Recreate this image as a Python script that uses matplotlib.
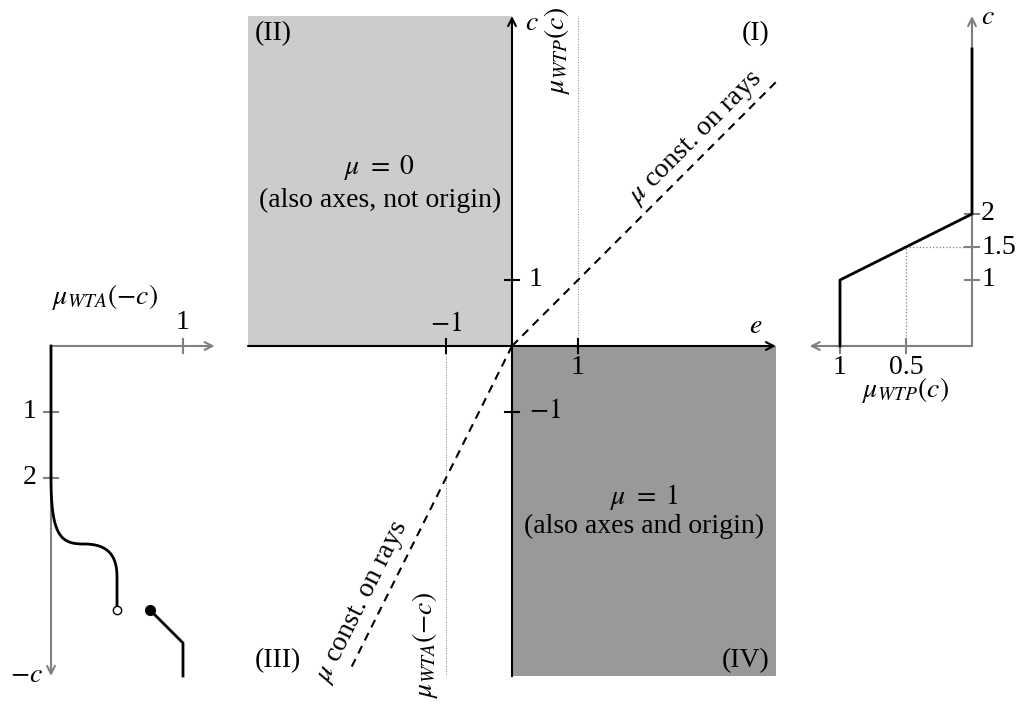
import numpy as np
import matplotlib
matplotlib.use("Agg")
import matplotlib.pyplot as plt
from matplotlib.patches import Rectangle

plt.rcParams['font.family'] = 'serif'
plt.rcParams['font.serif'] = ['Liberation Serif', 'DejaVu Serif']
plt.rcParams['mathtext.fontset'] = 'stix'

# ---------------- data ----------------
# main plane (e, c)
e_range = [-4, 4]
c_range = [-5, 5]
main_ticks = [-1, 1]
ray_I = ([0, 4], [0, 4])            # mu const on rays, slope 1
ray_III = ([0, -2.45], [0, -4.9])   # slope 2
wtp_dot_e = 1                       # dotted line e = 1 (upper half)
wta_dot_e = -1                      # dotted line e = -1 (lower half)

# right inset: mu_WTP(c)
wtp_mu = [1, 1, 0, 0]
wtp_c = [0, 1, 2, 4.5]
wtp_mu_ticks = [1, 0.5]
wtp_c_ticks = [1, 1.5, 2]

# left inset: mu_WTA(-c), drawn downwards
wta_line_mu = [0, 0]
wta_line_c = [0, -2]
wta_bez1 = [(0, -2), (0, -2.9), (0.08, -3), (0.25, -3)]
wta_bez2 = [(0.25, -3), (0.42, -3), (0.5, -3.15), (0.5, -3.5)]
wta_tail_mu = [0.5, 0.5]
wta_tail_c = [-3.5, -4]
wta_open = (0.5, -4)
wta_jump_mu = [0.75, 1, 1]
wta_jump_c = [-4, -4.5, -5]
wta_c_ticks = [-1, -2]

FS = 20
GRAY = '#808080'
LW = 1.5


def bezier(pts, n=60):
    p = np.array(pts, dtype=float)
    t = np.linspace(0, 1, n)[:, None]
    return ((1 - t) ** 3 * p[0] + 3 * (1 - t) ** 2 * t * p[1]
            + 3 * (1 - t) * t ** 2 * p[2] + t ** 3 * p[3])


def arrow(ax, start, tip, color, lw):
    ax.annotate('', xy=tip, xytext=start,
                arrowprops=dict(arrowstyle='->', color=color, lw=lw,
                                shrinkA=0, shrinkB=0, mutation_scale=14))


fig = plt.figure(figsize=(10.25, 7.04), dpi=100)
W, H = 1025, 704
U = 66.0      # px per unit in c and e
M = 132.0     # px per unit of mu in insets
ox, oy = 512, 346

ylim = (-(H - oy) / U, oy / U)
ax = fig.add_axes([0, 0, 1, 1])
ax.set_xlim(-ox / U, (W - ox) / U)
ax.set_ylim(*ylim)
axl = fig.add_axes([0, 0, 1, 1])
axl.set_xlim(-51 / M, (W - 51) / M)
axl.set_ylim(*ylim)
axr = fig.add_axes([0, 0, 1, 1])
axr.set_xlim(972 / M, (972 - W) / M)
axr.set_ylim(*ylim)
for a in (ax, axl, axr):
    a.axis('off')
    a.patch.set_alpha(0)

# ---------------- main plane ----------------
ax.add_patch(Rectangle((e_range[0], 0), -e_range[0], c_range[1],
                       facecolor='#cccccc', edgecolor='none', zorder=0))
ax.add_patch(Rectangle((0, c_range[0]), e_range[1], -c_range[0],
                       facecolor='#999999', edgecolor='none', zorder=0))
ax.plot([wtp_dot_e] * 2, [0, c_range[1]], color=GRAY, lw=0.7, ls=':', zorder=1)
ax.plot([wta_dot_e] * 2, [0, c_range[0]], color=GRAY, lw=0.7, ls=':', zorder=1)
arrow(ax, (e_range[0], 0), (e_range[1], 0), 'black', LW)
ax.plot([0, 0], [c_range[0], 0], color='black', lw=LW)
arrow(ax, (0, 0), (0, c_range[1]), 'black', LW)
for t in main_ticks:
    ax.plot([t, t], [-0.1, 0.1], color='black', lw=LW)
    ax.plot([-0.1, 0.1], [t, t], color='black', lw=LW)
ax.plot(*ray_I, color='black', lw=LW, ls=(0, (4, 3)))
ax.plot(*ray_III, color='black', lw=LW, ls=(0, (4, 3)))

ax.text(1, -0.32, '1', fontsize=FS, ha='center', va='center')
ax.text(-1, 0.32, r'$-1$', fontsize=FS, ha='center', va='center')
ax.text(0.35, 1, '1', fontsize=FS, ha='center', va='center')
ax.text(0.5, -1, r'$-1$', fontsize=FS, ha='center', va='center')
ax.text(0.2, 4.88, r'$c$', fontsize=FS, ha='left', va='center')
ax.text(3.7, 0.3, r'$e$', fontsize=FS, ha='center', va='center')

ax.text(-3.9, 4.74, '(II)', fontsize=FS, ha='left', va='center')
ax.text(3.9, 4.74, '(I)', fontsize=FS, ha='right', va='center')
ax.text(-3.9, -4.76, '(III)', fontsize=FS, ha='left', va='center')
ax.text(3.9, -4.76, '(IV)', fontsize=FS, ha='right', va='center')

ax.text(-2, 2.70, r'$\mu\ =\ 0$', fontsize=FS, ha='center', va='center')
ax.text(-2, 2.21, '(also axes, not origin)', fontsize=FS, ha='center', va='center')
ax.text(2, -2.29, r'$\mu\ =\ 1$', fontsize=FS, ha='center', va='center')
ax.text(2, -2.74, '(also axes and origin)', fontsize=FS, ha='center', va='center')

ax.text(2.79, 3.15, r'$\mu$ const. on rays', fontsize=FS, rotation=45,
        ha='center', va='center', rotation_mode='anchor')
ax.text(-2.26, -3.88, r'$\mu$ const. on rays', fontsize=FS,
        rotation=np.degrees(np.arctan(2)), ha='center', va='center',
        rotation_mode='anchor')
ax.text(0.68, 4.48, r'$\mu_{WTP}(c)$', fontsize=FS, rotation=90,
        ha='center', va='center')
ax.text(-1.32, -4.53, r'$\mu_{WTA}(-c)$', fontsize=FS, rotation=90,
        ha='center', va='center')

# ---------------- right inset ----------------
arrow(axr, (0, 0), (1.23, 0), GRAY, LW)
arrow(axr, (0, 0), (0, 5), GRAY, LW)
axr.plot([wtp_mu_ticks[1]] * 2, [0, wtp_c_ticks[1]], color=GRAY, lw=0.9, ls=':')
axr.plot([wtp_mu_ticks[1], 0], [wtp_c_ticks[1]] * 2, color=GRAY, lw=0.9, ls=':')
for t in wtp_mu_ticks:
    axr.plot([t, t], [-0.1, 0.1], color=GRAY, lw=LW)
    axr.text(t, -0.32, f'{t:g}', fontsize=FS, ha='center', va='center')
for t in wtp_c_ticks:
    axr.plot([-0.05, 0.05], [t, t], color=GRAY, lw=LW)
    axr.text(-0.07, t, f'{t:g}', fontsize=FS, ha='left', va='center')
axr.plot(wtp_mu, wtp_c, color='black', lw=2, zorder=5)
axr.text(-0.07, 4.97, r'$c$', fontsize=FS, ha='left', va='center')
axr.text(0.5, -0.66, r'$\mu_{WTP}(c)$', fontsize=FS, ha='center', va='center')

# ---------------- left inset ----------------
arrow(axl, (0, 0), (1.24, 0), GRAY, LW)
arrow(axl, (0, 0), (0, -5), GRAY, LW)
axl.plot([1, 1], [-0.1, 0.1], color=GRAY, lw=LW)
axl.text(1, 0.35, '1', fontsize=FS, ha='center', va='center')
for t in wta_c_ticks:
    axl.plot([-0.05, 0.05], [t, t], color=GRAY, lw=LW)
    axl.text(-0.16, t, f'{-t:g}', fontsize=FS, ha='center', va='center')
axl.text(-0.06, -5, r'$-c$', fontsize=FS, ha='right', va='center')
axl.text(0.41, 0.74, r'$\mu_{WTA}(-c)$', fontsize=FS, ha='center', va='center')

b1 = bezier(wta_bez1)
b2 = bezier(wta_bez2)
curve = np.vstack([np.column_stack([wta_line_mu, wta_line_c]), b1, b2,
                   np.column_stack([wta_tail_mu, wta_tail_c])])
axl.plot(curve[:, 0], curve[:, 1], color='black', lw=2, zorder=5)
axl.plot(*wta_open, 'o', ms=6, mfc='white', mec='black', mew=1, zorder=6)
axl.plot(wta_jump_mu, wta_jump_c, color='black', lw=2, zorder=5)
axl.plot(wta_jump_mu[0], wta_jump_c[0], 'o', ms=7, color='black', zorder=6)

fig.savefig('out.png', dpi=100)
